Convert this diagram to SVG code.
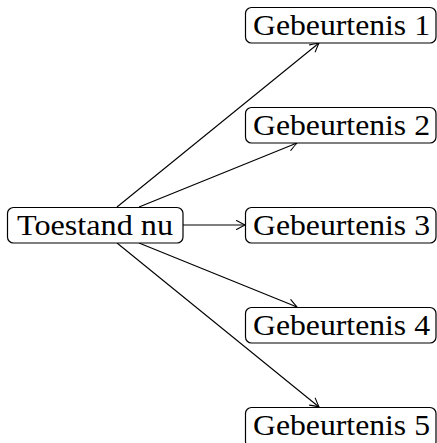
<svg xmlns="http://www.w3.org/2000/svg" width="437" height="443" viewBox="0 0 437 443">
  <style>
    .box { fill: #ffffff; stroke: #000000; stroke-width: 1.2; }
    .lbl { font-family: "Liberation Serif", "DejaVu Serif", serif; font-size: 30px; fill: #000000; }
    .edge { fill: none; stroke: #000000; stroke-width: 1.1; marker-end: url(#tip); }
  </style>
  <defs>
    <marker id="tip" viewBox="-10 -6 12 12" refX="0" refY="0" markerWidth="12" markerHeight="12" markerUnits="userSpaceOnUse" orient="auto" overflow="visible">
      <path d="M -8.5 -4.5 Q -2.5 -1.2 0 0 Q -2.5 1.2 -8.5 4.5" fill="none" stroke="#000000" stroke-width="1.1" stroke-linecap="round"/>
    </marker>
  </defs>

  <g id="edges">
    <line class="edge" x1="117" y1="207" x2="319" y2="43"/>
    <line class="edge" x1="139" y1="207" x2="297" y2="143"/>
    <line class="edge" x1="183" y1="225" x2="245" y2="225"/>
    <line class="edge" x1="139" y1="243" x2="297" y2="307"/>
    <line class="edge" x1="117" y1="243" x2="319" y2="407"/>
  </g>

  <g id="nu">
    <rect class="box" x="7.5" y="207.5" width="175.5" height="35.5" rx="6"/>
    <text class="lbl" x="17" y="235" textLength="156" lengthAdjust="spacingAndGlyphs">Toestand nu</text>
  </g>

  <g id="g1">
    <rect class="box" x="245.5" y="7.5" width="190.5" height="35.5" rx="6"/>
    <text class="lbl" x="253" y="35" textLength="177" lengthAdjust="spacingAndGlyphs">Gebeurtenis 1</text>
  </g>

  <g id="g2">
    <rect class="box" x="245.5" y="107.5" width="190.5" height="35.5" rx="6"/>
    <text class="lbl" x="253" y="135" textLength="177" lengthAdjust="spacingAndGlyphs">Gebeurtenis 2</text>
  </g>

  <g id="g3">
    <rect class="box" x="245.5" y="207.5" width="190.5" height="35.5" rx="6"/>
    <text class="lbl" x="253" y="235" textLength="177" lengthAdjust="spacingAndGlyphs">Gebeurtenis 3</text>
  </g>

  <g id="g4">
    <rect class="box" x="245.5" y="307.5" width="190.5" height="35.5" rx="6"/>
    <text class="lbl" x="253" y="335" textLength="177" lengthAdjust="spacingAndGlyphs">Gebeurtenis 4</text>
  </g>

  <g id="g5">
    <!-- lower edge runs past the canvas bottom -->
    <rect class="box" x="245.5" y="407.5" width="190.5" height="40" rx="6"/>
    <text class="lbl" x="253" y="435" textLength="177" lengthAdjust="spacingAndGlyphs">Gebeurtenis 5</text>
  </g>
</svg>
